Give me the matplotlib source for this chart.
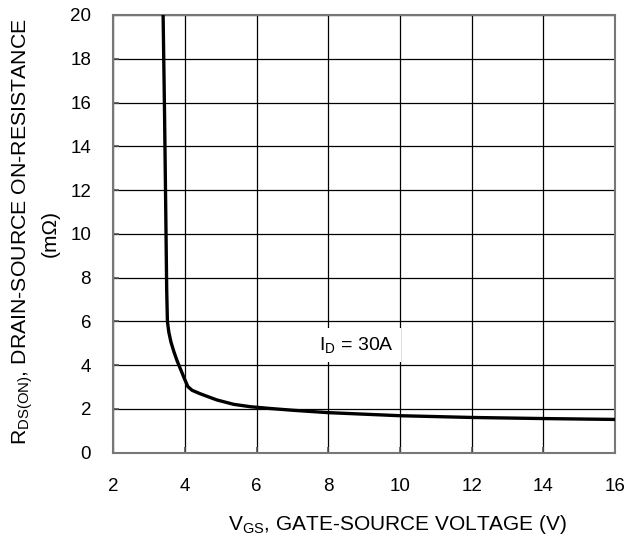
import matplotlib
matplotlib.use("Agg")
import matplotlib.pyplot as plt

plt.rcParams["font.family"] = ["Liberation Sans", "DejaVu Sans"]
plt.rcParams["mathtext.fontset"] = "custom"
plt.rcParams["mathtext.rm"] = "Liberation Sans"
plt.rcParams["mathtext.it"] = "Liberation Sans"

# gate-source voltage (V) vs on-resistance (mOhm), ID = 30A
vgs = [3.39, 3.43, 3.46, 3.49, 3.51, 3.55, 3.61, 3.69, 3.78, 3.88, 3.98, 4.08,
       4.20, 4.43, 4.89, 5.36, 5.83, 6.38, 7.0, 8.0, 10.0, 12.0, 14.0, 16.0]
rds = [20.0, 15.5, 11.55, 7.45, 6.0, 5.5, 5.05, 4.62, 4.2, 3.8, 3.4, 3.02,
       2.85, 2.69, 2.41, 2.21, 2.10, 2.02, 1.94, 1.83, 1.69, 1.61, 1.56, 1.52]

x_ticks = [2, 4, 6, 8, 10, 12, 14, 16]
y_ticks = [0, 2, 4, 6, 8, 10, 12, 14, 16, 18, 20]

W, H = 642, 542
fig = plt.figure(figsize=(W / 100, H / 100), dpi=100)
ax = fig.add_axes([113.3 / W, 1 - 452.7 / H, (615 - 113.3) / W, (452.7 - 15) / H])

ax.plot(vgs, rds, color="black", lw=2.4, solid_capstyle="butt",
        solid_joinstyle="round", zorder=3)

ax.set_xlim(2, 16)
ax.set_ylim(0, 20)
ax.set_xticks(x_ticks)
ax.set_yticks(y_ticks)
ax.grid(True, color="black", lw=0.9, zorder=1)
ax.set_axisbelow(True)
ax.tick_params(direction="in", length=4, width=1.2, color="#555555", labelsize=13.5)
ax.tick_params(axis="x", pad=18.5)
ax.tick_params(axis="y", pad=16)
for s in ax.spines.values():
    s.set_color("#777777")
    s.set_linewidth(1.5)

ax.text(8.79, 4.92, r"I$_\mathrm{D}$ = 30A", fontsize=14, ha="center", va="center",
        bbox=dict(facecolor="white", edgecolor="none", pad=5), zorder=2)

fig.text(397.5 / W, 1 - 524 / H, r"V$_\mathrm{GS}$, GATE-SOURCE VOLTAGE (V)",
         fontsize=15, ha="center", va="center")
fig.text(23 / W, 1 - 232 / H, r"R$_\mathrm{DS(ON)}$, DRAIN-SOURCE ON-RESISTANCE",
         fontsize=15.3, ha="center", va="center", rotation=90)
fig.text(50 / W, 1 - 234 / H, "(m\u03a9)",
         fontsize=15, ha="center", va="center", rotation=90)

fig.savefig("out.png", dpi=100)
